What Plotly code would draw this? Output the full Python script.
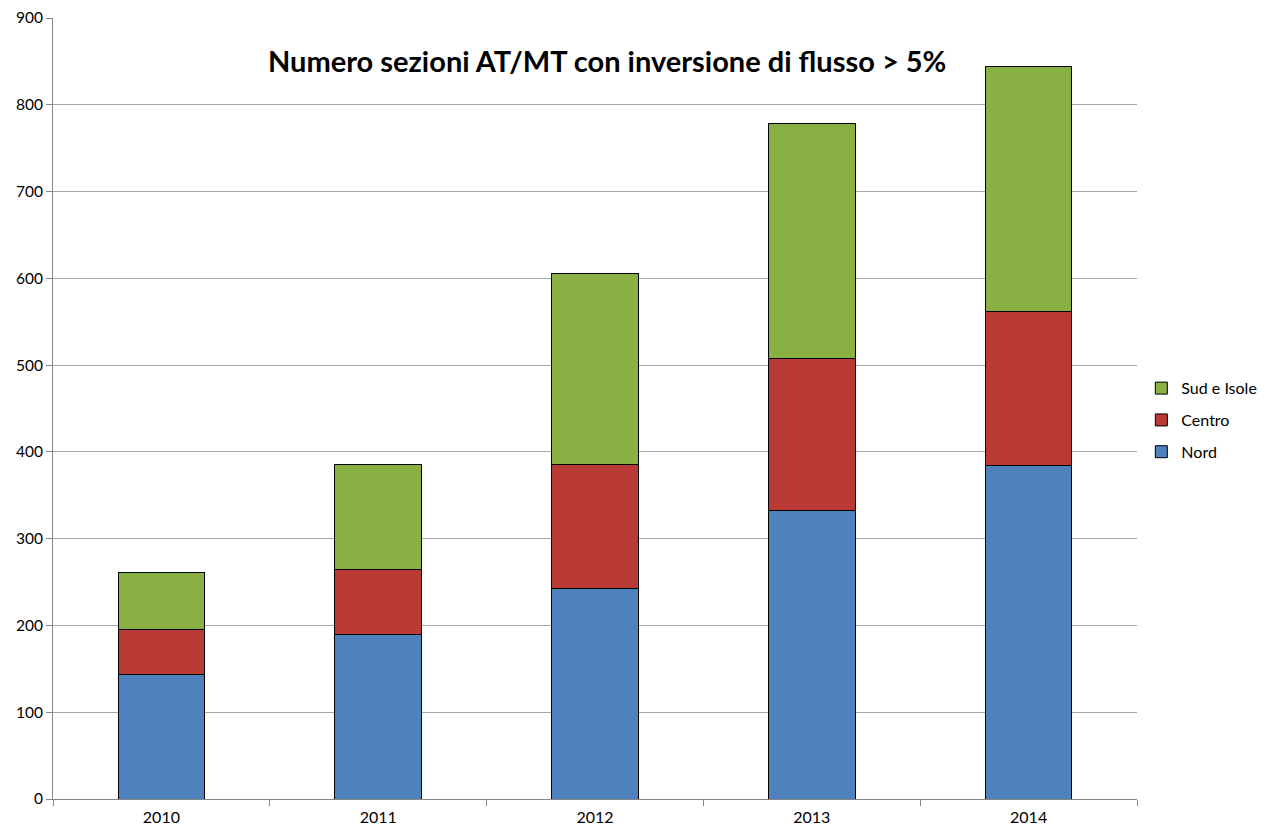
import plotly.graph_objects as go

years = ["2010", "2011", "2012", "2013", "2014"]
nord = [144, 189, 243, 333, 384]
centro = [51, 76, 142, 175, 178]
sud_isole = [66, 121, 220, 271, 282]

fig = go.Figure()
fig.add_trace(go.Bar(x=years, y=nord, name="Nord", legendgroup="n", legendrank=3,
                     marker=dict(color="#4F81BD", line=dict(color="#000000", width=1))))
fig.add_trace(go.Bar(x=years, y=centro, name="Centro", legendgroup="c", legendrank=2,
                     marker=dict(color="#BA3A36", line=dict(color="#000000", width=1))))
fig.add_trace(go.Bar(x=years, y=sud_isole, name="Sud e Isole", legendgroup="s", legendrank=1,
                     marker=dict(color="#8AB043", line=dict(color="#000000", width=1))))

fig.update_layout(
    width=1258, height=821,
    barmode="stack", bargap=0.6,
    plot_bgcolor="white", paper_bgcolor="white",
    margin=dict(l=45, r=129, t=10, b=30, autoexpand=False),
    font=dict(family="Lato, Open Sans, sans-serif", size=16, color="black"),
    annotations=[dict(text="<b>Numero sezioni AT/MT con inversione di flusso > 5%</b>",
                      x=0.511, y=0.946, xref="paper", yref="paper",
                      xanchor="center", yanchor="middle", showarrow=False,
                      font=dict(size=29, color="black"))],
    legend=dict(x=1.004, y=0.485, xanchor="left", yanchor="middle",
                traceorder="grouped", font=dict(size=16),
                itemwidth=30, tracegroupgap=8),
    xaxis=dict(showline=True, linecolor="#888888", linewidth=1,
               ticks="outside", ticklen=6, tickcolor="#888888",
               tickson="boundaries", showgrid=False, automargin=False,
               ticklabelstandoff=4),
    yaxis=dict(range=[0, 900], dtick=100, showline=True, linecolor="#888888",
               ticks="outside", ticklen=6, tickcolor="#888888",
               showgrid=True, gridcolor="#A6A6A6", gridwidth=1, zeroline=False,
               automargin=False, ticklabeloverflow="allow",
               tickfont=dict(size=15.5)),
)

fig.write_html("out.html")
